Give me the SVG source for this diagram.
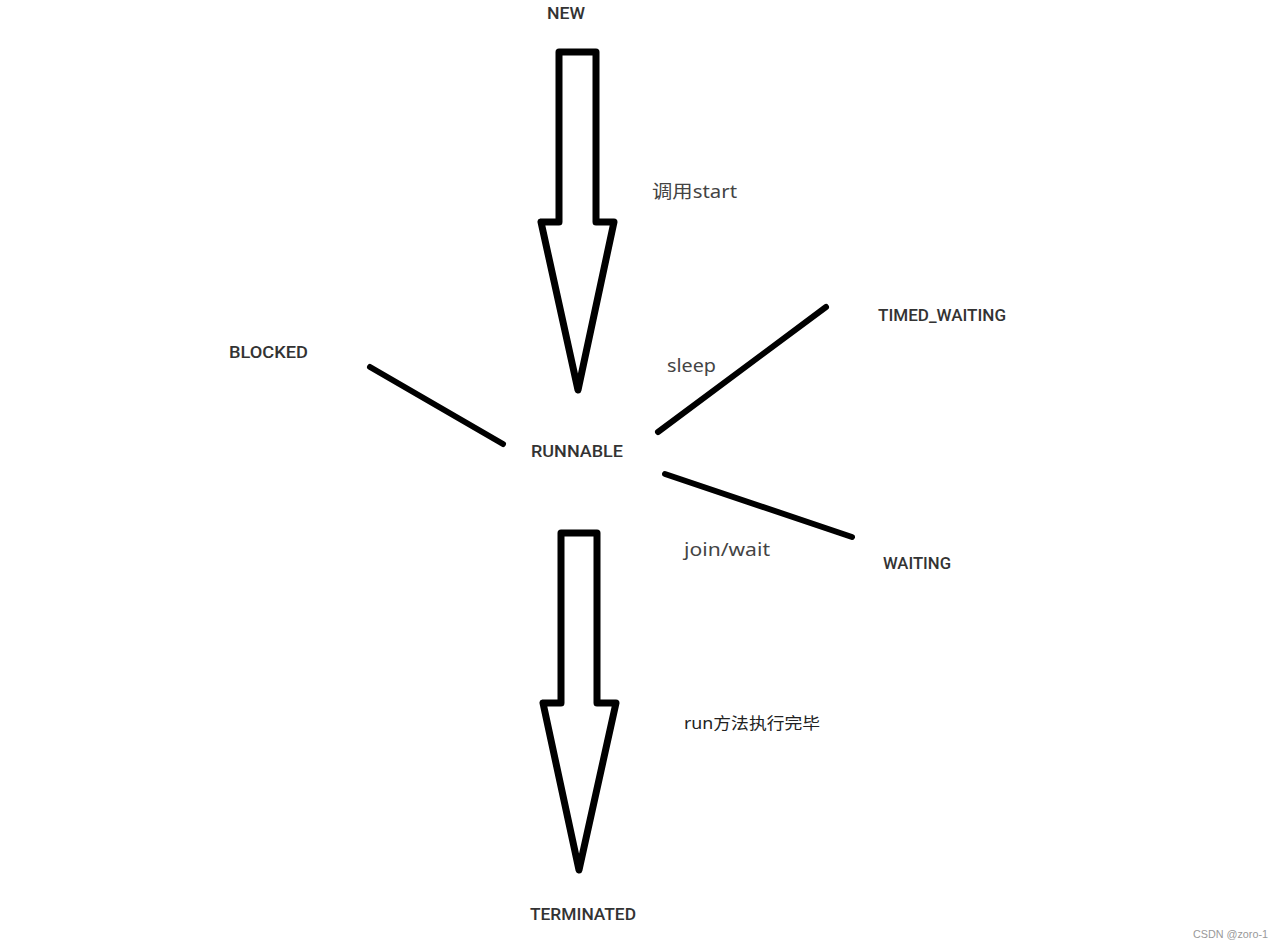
<svg xmlns="http://www.w3.org/2000/svg" width="1284" height="948" viewBox="0 0 1284 948">
<style>
.state{font-family:Roboto,"Liberation Sans","Noto Sans CJK SC",sans-serif;font-size:16px;fill:#333;font-weight:500}
.lbl{font-family:"Noto Sans","Noto Sans CJK SC",sans-serif;font-size:18px;fill:#444}
.arrow{fill:#fff;stroke:#000;stroke-width:7;stroke-linejoin:round}
.ln{stroke:#000;stroke-width:6;stroke-linecap:round;fill:none}
</style>
<rect width="1284" height="948" fill="#fff"/>
<g id="connectors">
<polygon class="arrow" points="559,52 596,52 596,222 614,222 578,390 541,222 559,222"/>
<polygon class="arrow" points="561,533 597,533 597,703 616,703 579,870 543,703 561,703"/>
<line class="ln" x1="370" y1="367" x2="503" y2="444"/>
<line class="ln" x1="658" y1="432" x2="826" y2="307"/>
<line class="ln" x1="665" y1="474" x2="852" y2="537"/>
<text class="lbl" x="652" y="198" textLength="85" lengthAdjust="spacingAndGlyphs">调用start</text>
<text class="lbl" x="667" y="372" textLength="49" lengthAdjust="spacingAndGlyphs">sleep</text>
<text class="lbl" x="684" y="556" textLength="86" lengthAdjust="spacingAndGlyphs">join/wait</text>
<text class="lbl" x="684" y="729" style="font-size:16px;fill:#222" textLength="136" lengthAdjust="spacingAndGlyphs">run方法执行完毕</text>
</g>
<g id="new"><text class="state" x="547" y="19" textLength="38" lengthAdjust="spacingAndGlyphs">NEW</text></g>
<g id="blocked"><text class="state" x="229" y="358" textLength="79" lengthAdjust="spacingAndGlyphs">BLOCKED</text></g>
<g id="runnable"><text class="state" x="531" y="457" textLength="92" lengthAdjust="spacingAndGlyphs">RUNNABLE</text></g>
<g id="timed_waiting"><text class="state" x="878" y="321" textLength="128" lengthAdjust="spacingAndGlyphs">TIMED_WAITING</text></g>
<g id="waiting"><text class="state" x="883" y="569" textLength="68" lengthAdjust="spacingAndGlyphs">WAITING</text></g>
<g id="terminated"><text class="state" x="530" y="920" textLength="106" lengthAdjust="spacingAndGlyphs">TERMINATED</text></g>
<text x="1193" y="938" style="font-family:'Liberation Sans',sans-serif;font-size:11px;fill:#999" textLength="75" lengthAdjust="spacingAndGlyphs">CSDN @zoro-1</text>
</svg>
